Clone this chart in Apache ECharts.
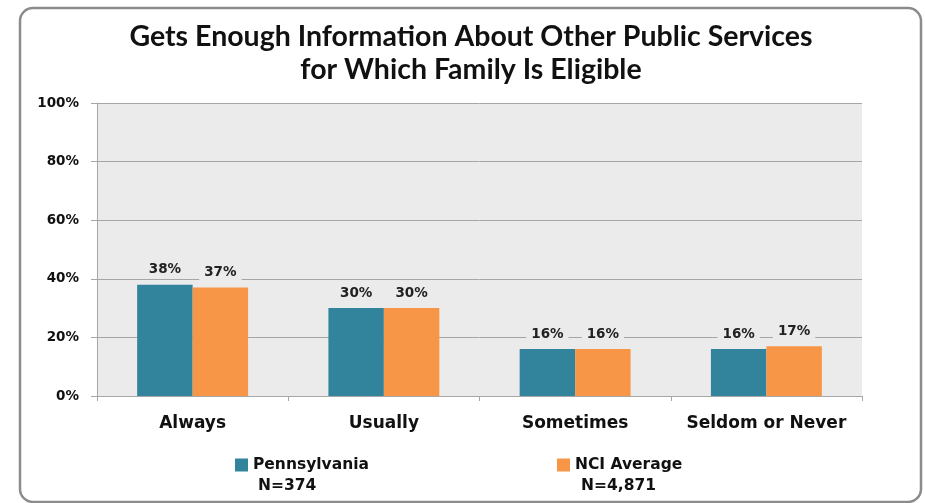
<!DOCTYPE html>
<html>
<head>
<meta charset="utf-8">
<script src="https://cdn.jsdelivr.net/npm/echarts@6/dist/echarts.min.js"></script>
<style>
html,body{margin:0;padding:0;background:#fff;}
#c{width:925px;height:503px;}
</style>
</head>
<body>
<div id="c"></div>
<script>
var titleLines = ['Gets Enough Information About Other Public Services', 'for Which Family Is Eligible'];
var categories = ['Always', 'Usually', 'Sometimes', 'Seldom or Never'];
var seriesNames = ['Pennsylvania', 'NCI Average'];
var sampleSizes = ['N=374', 'N=4,871'];
var pennsylvania = [38, 30, 16, 16];
var nciAverage = [37, 30, 16, 17];
var yTicks = [0, 20, 40, 60, 80, 100];

var colors = ['#31849B', '#F79646'];
var plotBg = '#EBEBEB';
var font = 'DejaVu Sans';

var chart = echarts.init(document.getElementById('c'), null, {renderer: 'canvas'});

function barSeries(name, data, color) {
  return {
    name: name,
    type: 'bar',
    data: data,
    barGap: '0%',
    barCategoryGap: '42%',
    itemStyle: {color: color},
    label: {
      show: true,
      position: 'top',
      distance: 6,
      formatter: '{c}%',
      fontFamily: font,
      fontWeight: 'bold',
      fontSize: 13.5,
      color: '#222',
      backgroundColor: plotBg,
      padding: [2, 5]
    }
  };
}

chart.setOption({
  animation: false,
  backgroundColor: '#fff',
  title: {
    text: titleLines.join('\n'),
    left: 471,
    top: 20,
    padding: 0,
    textAlign: 'center',
    textStyle: {
      fontFamily: 'Lato',
      fontWeight: 'bold',
      fontSize: 28.5,
      lineHeight: 33,
      color: '#111'
    }
  },
  legend: [
    {
      data: [seriesNames[0]],
      left: 235,
      top: 457,
      padding: 0,
      itemWidth: 13,
      itemHeight: 13,
      icon: 'rect',
      textStyle: {fontFamily: font, fontWeight: 'bold', fontSize: 15.5, color: '#111'}
    },
    {
      data: [seriesNames[1]],
      left: 557,
      top: 457,
      padding: 0,
      itemWidth: 13,
      itemHeight: 13,
      icon: 'rect',
      textStyle: {fontFamily: font, fontWeight: 'bold', fontSize: 15.5, color: '#111'}
    }
  ],
  graphic: [
    {
      type: 'rect',
      shape: {x: 20, y: 8, width: 901, height: 494, r: 13},
      style: {fill: 'none', stroke: '#8C8C8C', lineWidth: 2.5},
      silent: true
    },
    {
      type: 'text',
      left: 258,
      top: 478,
      style: {text: sampleSizes[0], fontFamily: font, fontWeight: 'bold', fontSize: 15.5, fill: '#111'}
    },
    {
      type: 'text',
      left: 581,
      top: 478,
      style: {text: sampleSizes[1], fontFamily: font, fontWeight: 'bold', fontSize: 15.5, fill: '#111'}
    }
  ],
  grid: {
    left: 97,
    right: 63,
    top: 103,
    bottom: 107,
    show: true,
    backgroundColor: plotBg,
    borderWidth: 0
  },
  xAxis: {
    type: 'category',
    data: categories,
    axisLine: {show: true, lineStyle: {color: '#A6A6A6', width: 1}},
    axisTick: {show: true, interval: 0, length: 5, lineStyle: {color: '#A6A6A6'}},
    axisLabel: {
      interval: 0,
      margin: 19,
      fontFamily: font,
      fontWeight: 'bold',
      fontSize: 17,
      color: '#111'
    },
    splitLine: {show: false}
  },
  yAxis: {
    type: 'value',
    min: yTicks[0],
    max: yTicks[yTicks.length - 1],
    interval: yTicks[1] - yTicks[0],
    axisLine: {show: true, lineStyle: {color: '#A6A6A6', width: 1}},
    axisTick: {show: true, length: 6, lineStyle: {color: '#A6A6A6'}},
    axisLabel: {
      margin: 18,
      formatter: '{value}%',
      fontFamily: font,
      fontWeight: 'bold',
      fontSize: 13.5,
      color: '#111'
    },
    splitLine: {show: true, lineStyle: {color: '#A6A6A6', width: 1}}
  },
  series: [
    barSeries(seriesNames[0], pennsylvania, colors[0]),
    barSeries(seriesNames[1], nciAverage, colors[1])
  ]
});
</script>
</body>
</html>
